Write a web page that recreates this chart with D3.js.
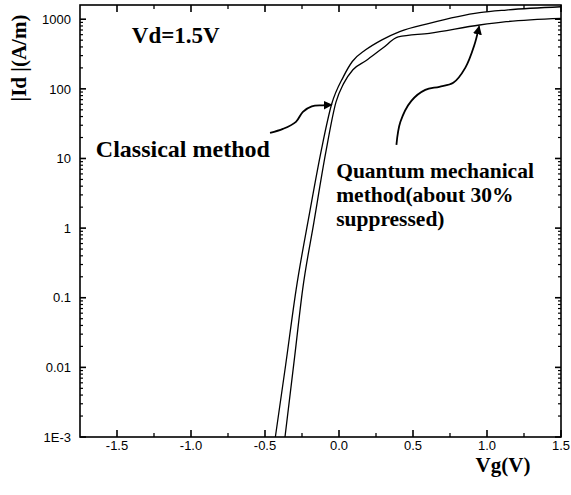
<!DOCTYPE html>
<html>
<head>
<meta charset="utf-8">
<script src="https://cdn.jsdelivr.net/npm/d3@7/dist/d3.min.js"></script>
<style>
  html, body { margin: 0; padding: 0; background: #fff; }
  svg { display: block; }
</style>
</head>
<body>
<svg id="chart" width="571" height="495"></svg>
<script>
// ---------------- data ----------------
const vgClassical = [-0.43, -0.36, -0.29, -0.20, -0.12, -0.05, 0.03, 0.09, 0.18, 0.29, 0.41, 0.61, 0.95, 1.13, 1.5];
const idClassical = [0.001, 0.011, 0.13, 1.6, 13, 60, 150, 247, 363, 506, 665, 873, 1242, 1355, 1510];

const vgQuantum = [-0.365, -0.30, -0.246, -0.17, -0.09, -0.02, 0.03, 0.094, 0.184, 0.296, 0.40, 0.61, 0.95, 1.13, 1.5];
const idQuantum = [0.001, 0.014, 0.13, 1.2, 12, 65, 118, 188, 255, 385, 556, 628, 826, 921, 1030];

const xTicks = [-1.5, -1.0, -0.5, 0.0, 0.5, 1.0, 1.5];
const xTickLabels = ["-1.5", "-1.0", "-0.5", "0.0", "0.5", "1.0", "1.5"];
const xMinorTicks = [-1.25, -0.75, -0.25, 0.25, 0.75, 1.25];
const yTicks = [0.001, 0.01, 0.1, 1, 10, 100, 1000];
const yTickLabels = ["1E-3", "0.01", "0.1", "1", "10", "100", "1000"];

// annotation anchors in data units [Vg, Id]
const classicalArrow = [[-0.466, 23.3], [-0.379, 26.6], [-0.291, 33.6], [-0.244, 46.8], [-0.184, 56.1], [-0.11, 58], [-0.049, 58.9]];
const quantumArrow = [[0.388, 15.7], [0.415, 33.6], [0.489, 67.3], [0.583, 96.8], [0.678, 107], [0.772, 122], [0.853, 200], [0.913, 415], [0.947, 790]];
const vdLabelPos = [-1.40, 458];
const classicalLabelPos = [-1.643, 10.5];
const quantumLabelPos = [-0.019, 5.26];
const quantumLines = ["Quantum mechanical", "method(about 30%", "suppressed)"];

// ---------------- layout ----------------
const svg = d3.select("#chart");
const L = 80, R = 561, T = 5, B = 437;

const x = d3.scaleLinear().domain([-1.75, 1.5]).range([L, R]);
const y = d3.scaleLog().domain([0.001, 1600]).range([B, T]);

const yMinor = [];
for (let e = -3; e <= 3; e++) for (let k = 2; k <= 9; k++) { const v = k * Math.pow(10, e); if (v < 1600) yMinor.push(v); }

const tickFont = "'Liberation Sans', Arial, sans-serif";
const serif = "'Liberation Serif', 'Times New Roman', serif";

// frame
svg.append("rect").attr("x", L).attr("y", T).attr("width", R - L).attr("height", B - T)
  .attr("fill", "none").attr("stroke", "#000").attr("stroke-width", 1.6);

// ticks (drawn from the scales, pointing inward on all four sides)
const tk = svg.append("g").attr("stroke", "#000");
function xTickMarks(vals, len, w) {
  vals.forEach(v => {
    tk.append("line").attr("x1", x(v)).attr("x2", x(v)).attr("y1", B).attr("y2", B - len).attr("stroke-width", w);
    tk.append("line").attr("x1", x(v)).attr("x2", x(v)).attr("y1", T).attr("y2", T + len).attr("stroke-width", w);
  });
}
function yTickMarks(vals, len, w) {
  vals.forEach(v => {
    tk.append("line").attr("y1", y(v)).attr("y2", y(v)).attr("x1", L).attr("x2", L + len).attr("stroke-width", w);
    tk.append("line").attr("y1", y(v)).attr("y2", y(v)).attr("x1", R).attr("x2", R - len).attr("stroke-width", w);
  });
}
xTickMarks(xTicks, 7, 1.6);
xTickMarks(xMinorTicks, 4, 1.3);
yTickMarks(yTicks, 6, 1.6);
yTickMarks(yMinor, 3, 1.2);

// tick labels
svg.append("g").selectAll("text").data(xTicks).join("text")
  .attr("x", d => x(d)).attr("y", B + 13).attr("text-anchor", "middle")
  .attr("font-family", tickFont).attr("font-size", 13).attr("fill", "#000")
  .text((d, i) => xTickLabels[i]);
svg.append("g").selectAll("text").data(yTicks).join("text")
  .attr("x", L - 9).attr("y", d => y(d)).attr("dy", "0.36em").attr("text-anchor", "end")
  .attr("font-family", tickFont).attr("font-size", 13).attr("fill", "#000")
  .text((d, i) => yTickLabels[i]);

// curves
const line = d3.line().x(d => x(d[0])).y(d => y(d[1])).curve(d3.curveMonotoneX);
const classical = vgClassical.map((v, i) => [v, idClassical[i]]);
const quantum = vgQuantum.map((v, i) => [v, idQuantum[i]]);

svg.append("path").datum(classical).attr("d", line)
  .attr("fill", "none").attr("stroke", "#000").attr("stroke-width", 1.3);
svg.append("path").datum(quantum).attr("d", line)
  .attr("fill", "none").attr("stroke", "#000").attr("stroke-width", 1.3);

// arrows
const defs = svg.append("defs");
defs.append("marker").attr("id", "ah").attr("viewBox", "0 0 10 10")
  .attr("refX", 9).attr("refY", 5).attr("markerWidth", 9).attr("markerHeight", 9)
  .attr("markerUnits", "userSpaceOnUse").attr("orient", "auto")
  .append("path").attr("d", "M0,0 L10,5 L0,10 Z").attr("fill", "#000");

const arrowLine = d3.line().x(d => x(d[0])).y(d => y(d[1])).curve(d3.curveCatmullRom);
[classicalArrow, quantumArrow].forEach(pts => {
  svg.append("path").datum(pts).attr("d", arrowLine)
    .attr("fill", "none").attr("stroke", "#000").attr("stroke-width", 1.8)
    .attr("marker-end", "url(#ah)");
});

// annotation text
svg.append("text").attr("x", x(vdLabelPos[0])).attr("y", y(vdLabelPos[1]))
  .attr("font-family", serif).attr("font-weight", "bold").attr("font-size", 23)
  .text("Vd=1.5V");

svg.append("text").attr("x", x(classicalLabelPos[0])).attr("y", y(classicalLabelPos[1]))
  .attr("font-family", serif).attr("font-weight", "bold").attr("font-size", 24)
  .text("Classical method");

const qt = svg.append("text").attr("x", x(quantumLabelPos[0])).attr("y", y(quantumLabelPos[1]))
  .attr("font-family", serif).attr("font-weight", "bold").attr("font-size", 21.5);
quantumLines.forEach((s, i) => {
  qt.append("tspan").attr("x", x(quantumLabelPos[0])).attr("dy", i === 0 ? 0 : 24).text(s);
});

// axis titles
svg.append("text").attr("x", 503).attr("y", 472).attr("text-anchor", "middle")
  .attr("font-family", serif).attr("font-weight", "bold").attr("font-size", 21)
  .text("Vg(V)");

svg.append("text").attr("transform", "translate(26,58) rotate(-90)").attr("text-anchor", "middle")
  .attr("font-family", serif).attr("font-weight", "bold").attr("font-size", 21)
  .text("|Id |(A/m)");
</script>
</body>
</html>
